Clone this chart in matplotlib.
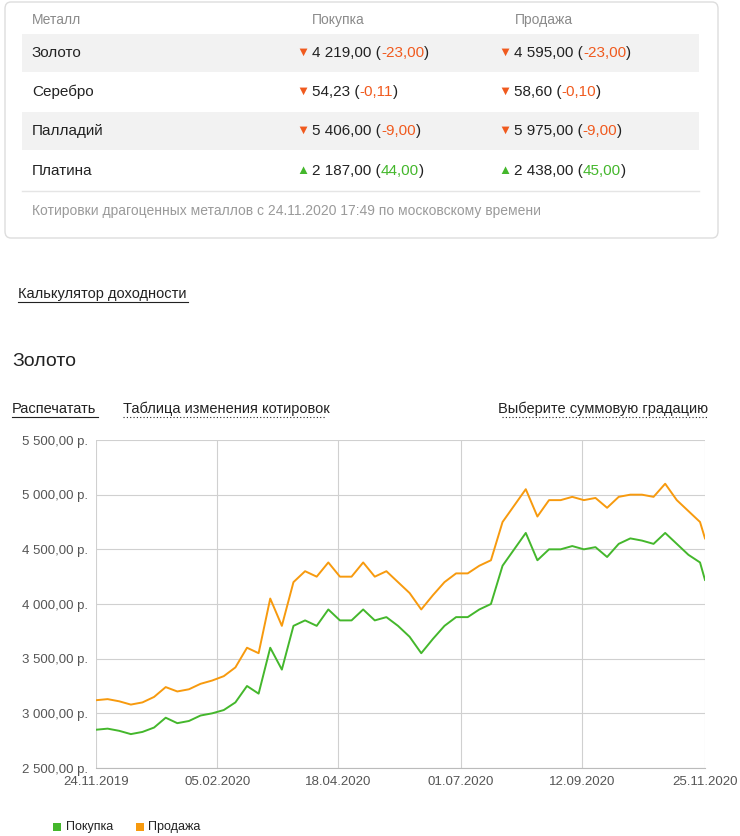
import numpy as np
import pandas as pd
import matplotlib
matplotlib.use("Agg")
import matplotlib.pyplot as plt
from matplotlib.patches import FancyBboxPatch, Rectangle

plt.rcParams["font.family"] = "Liberation Sans"

W, H = 740, 836

# quote table
metals = ["Золото", "Серебро", "Палладий", "Платина"]
buy_price = ["4 219,00", "54,23", "5 406,00", "2 187,00"]
buy_change = ["-23,00", "-0,11", "-9,00", "44,00"]
sell_price = ["4 595,00", "58,60", "5 975,00", "2 438,00"]
sell_change = ["-23,00", "-0,10", "-9,00", "45,00"]
trend_up = [False, False, False, True]

# gold chart, weekly readings
dates = list(pd.date_range("2019-11-24", "2020-11-22", freq="7D")) + [pd.Timestamp("2020-11-25")]
buy = [2850, 2860, 2840, 2810, 2830, 2870, 2960, 2910, 2930, 2980, 3000, 3030,
       3100, 3250, 3180, 3600, 3400, 3800, 3850, 3800, 3950, 3850, 3850, 3950,
       3850, 3880, 3800, 3700, 3550, 3680, 3800, 3880, 3880, 3950, 4000, 4350,
       4500, 4650, 4400, 4500, 4500, 4530, 4500, 4520, 4430, 4550, 4600, 4580,
       4550, 4650, 4550, 4450, 4380, 4220]
sell = [3120, 3130, 3110, 3080, 3100, 3150, 3240, 3200, 3220, 3270, 3300, 3340,
        3420, 3600, 3550, 4050, 3800, 4200, 4300, 4250, 4380, 4250, 4250, 4380,
        4250, 4300, 4200, 4100, 3950, 4080, 4200, 4280, 4280, 4350, 4400, 4750,
        4900, 5050, 4800, 4950, 4950, 4980, 4950, 4970, 4880, 4980, 5000, 5000,
        4980, 5100, 4950, 4850, 4750, 4600]
xtick_labels = ["24.11.2019", "05.02.2020", "18.04.2020", "01.07.2020", "12.09.2020", "25.11.2020"]

ORANGE = "#f79a0e"
GREEN = "#44b72c"
RED = "#f05a1e"
GRAY = "#8a8a8a"

fig = plt.figure(figsize=(W / 100, H / 100), dpi=100)


def fx(x):
    return x / W


def fy(y):
    return 1 - y / H


# card
fig.patches.append(FancyBboxPatch((fx(5), fy(238)), fx(713), 236 / H,
                                  boxstyle="round,pad=0,rounding_size=0.008",
                                  transform=fig.transFigure, fc="white", ec="#dddddd", lw=1))
fig.text(fx(32), fy(20), "Металл", color=GRAY, fontsize=10, va="center")
fig.text(fx(312), fy(20), "Покупка", color=GRAY, fontsize=10, va="center")
fig.text(fx(515), fy(20), "Продажа", color=GRAY, fontsize=10, va="center")

renderer = fig.canvas.get_renderer()


def seq_text(x, y, parts):
    for s, c in parts:
        t = fig.text(fx(x), fy(y), s, color=c, fontsize=11, va="center")
        bb = t.get_window_extent(renderer=renderer)
        x += bb.width * 100 / fig.dpi


row_y = [53, 92, 131, 171]
for i, name in enumerate(metals):
    y = row_y[i]
    if i % 2 == 0:
        fig.patches.append(Rectangle((fx(22), fy(y + 19)), fx(677), 38 / H,
                                     transform=fig.transFigure, fc="#f2f2f2", ec="none"))
    fig.text(fx(32), fy(y), name, fontsize=11, va="center", color="#222222")
    col = GREEN if trend_up[i] else RED
    arrow = "▲" if trend_up[i] else "▼"
    for x0, p, ch in [(296, buy_price[i], buy_change[i]), (498, sell_price[i], sell_change[i])]:
        fig.text(fx(x0), fy(y), arrow, color=col, fontsize=9.5, va="center")
        seq_text(x0 + 16, y, [(p + " (", "#222222"), (ch, col), (")", "#222222")])

fig.lines.append(plt.Line2D([fx(22), fx(699)], [fy(191), fy(191)], transform=fig.transFigure,
                            color="#e5e5e5", lw=1))
fig.text(fx(32), fy(211), "Котировки драгоценных металлов с 24.11.2020 17:49 по московскому времени",
         color="#9a9a9a", fontsize=10, va="center")

# links and title
fig.text(fx(18), fy(294), "Калькулятор доходности", fontsize=10.5, va="center", color="#222222")
fig.lines.append(plt.Line2D([fx(18), fx(188)], [fy(302), fy(302)], transform=fig.transFigure, color="#222222", lw=0.8))
fig.text(fx(12), fy(361), "Золото", fontsize=14, va="center", color="#222222")
fig.text(fx(12), fy(409), "Распечатать", fontsize=10.5, va="center", color="#222222")
fig.lines.append(plt.Line2D([fx(12), fx(98)], [fy(417), fy(417)], transform=fig.transFigure, color="#222222", lw=0.8))
fig.text(fx(123), fy(409), "Таблица изменения котировок", fontsize=10.5, va="center", color="#222222")
fig.lines.append(plt.Line2D([fx(123), fx(325)], [fy(417), fy(417)], transform=fig.transFigure, color="#222222", lw=0.8, ls=(0, (1, 2))))
fig.text(fx(708), fy(409), "Выберите суммовую градацию", fontsize=10.5, va="center", ha="right", color="#222222")
fig.lines.append(plt.Line2D([fx(502), fx(708)], [fy(417), fy(417)], transform=fig.transFigure, color="#222222", lw=0.8, ls=(0, (1, 2))))

# chart
ax = fig.add_axes([fx(96), fy(768), fx(609), 328 / H])
ax.plot(dates, buy, color=GREEN, lw=1.4)
ax.plot(dates, sell, color=ORANGE, lw=1.4)
ax.set_ylim(2500, 5500)
ax.set_xlim(pd.Timestamp("2019-11-24"), pd.Timestamp("2020-11-25"))
ax.set_yticks(np.arange(2500, 5501, 500))
ax.set_yticklabels([f"{v:,.2f}".replace(",", " ").replace(".", ",") + " р." for v in range(2500, 5501, 500)])
tick_dates = pd.to_datetime(xtick_labels, format="%d.%m.%Y")
ax.set_xticks(tick_dates)
ax.set_xticklabels(xtick_labels)
ax.grid(True, color="#d0d0d0", lw=0.8)
for s in ["top", "right", "left"]:
    ax.spines[s].set_visible(False)
ax.spines["bottom"].set_color("#bbbbbb")
ax.tick_params(colors="#555555", labelsize=9.5, length=0, pad=6)

# legend
fig.patches.append(Rectangle((fx(53), fy(831)), fx(8), 8 / H, transform=fig.transFigure, fc=GREEN, ec="none"))
fig.text(fx(66), fy(827), "Покупка", fontsize=9, va="center", color="#222222")
fig.patches.append(Rectangle((fx(136), fy(831)), fx(8), 8 / H, transform=fig.transFigure, fc=ORANGE, ec="none"))
fig.text(fx(148), fy(827), "Продажа", fontsize=9, va="center", color="#222222")

fig.savefig("out.png", dpi=100)
